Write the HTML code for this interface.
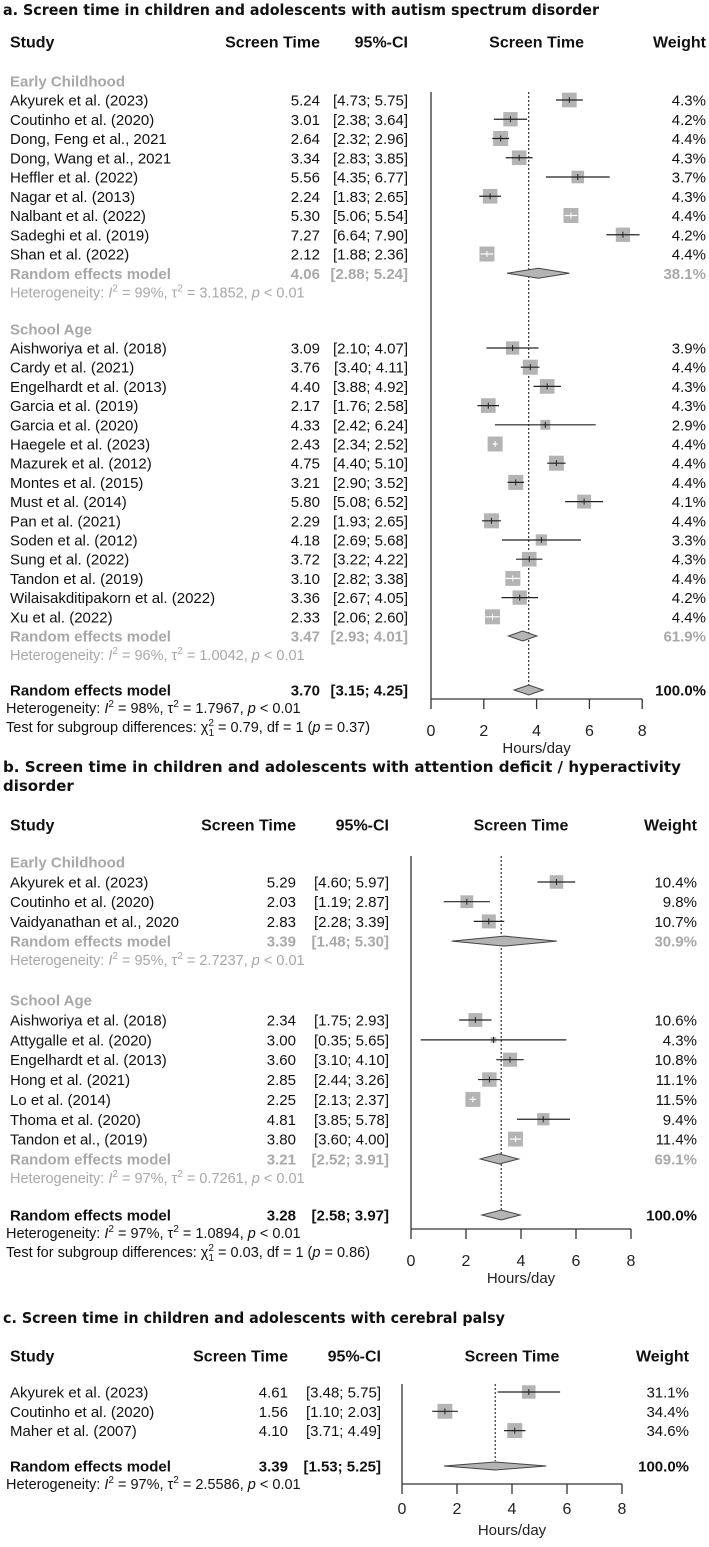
<!DOCTYPE html>
<html><head><meta charset="utf-8">
<style>
html,body{margin:0;padding:0;background:#fff;}
svg{display:block;font-family:"Liberation Sans",Arial,sans-serif;}
.t{font-family:"DejaVu Sans",sans-serif;font-weight:bold;font-size:15px;fill:#111;}
</style></head>
<body>
<svg id="chart" width="709" height="1547" viewBox="0 0 709 1547" xmlns="http://www.w3.org/2000/svg">
<text class="t" x="3" y="15" textLength="596" lengthAdjust="spacingAndGlyphs">a. Screen time in children and adolescents with autism spectrum disorder</text>
<text class="t" x="3" y="772" textLength="678" lengthAdjust="spacingAndGlyphs">b. Screen time in children and adolescents with attention deficit / hyperactivity</text>
<text class="t" x="3" y="791">disorder</text>
<text class="t" x="3" y="1323" textLength="502" lengthAdjust="spacingAndGlyphs">c. Screen time in children and adolescents with cerebral palsy</text>
</svg>
<script>
// ---------- Panel A data ----------
const aG1Names = ["Akyurek et al. (2023)","Coutinho et al. (2020)","Dong, Feng et al., 2021","Dong, Wang et al., 2021","Heffler et al. (2022)","Nagar et al. (2013)","Nalbant et al. (2022)","Sadeghi et al. (2019)","Shan et al. (2022)"];
const aG1Est = [5.24,3.01,2.64,3.34,5.56,2.24,5.30,7.27,2.12];
const aG1Lo = [4.73,2.38,2.32,2.83,4.35,1.83,5.06,6.64,1.88];
const aG1Hi = [5.75,3.64,2.96,3.85,6.77,2.65,5.54,7.90,2.36];
const aG1W = [4.3,4.2,4.4,4.3,3.7,4.3,4.4,4.2,4.4];
const aG1Pool = [4.06,2.88,5.24,38.1];
const aG1Het = ["99%","3.1852"];
const aG2Names = ["Aishworiya et al. (2018)","Cardy et al. (2021)","Engelhardt et al. (2013)","Garcia et al. (2019)","Garcia et al. (2020)","Haegele et al. (2023)","Mazurek et al. (2012)","Montes et al. (2015)","Must et al. (2014)","Pan et al. (2021)","Soden et al. (2012)","Sung et al. (2022)","Tandon et al. (2019)","Wilaisakditipakorn et al. (2022)","Xu et al. (2022)"];
const aG2Est = [3.09,3.76,4.40,2.17,4.33,2.43,4.75,3.21,5.80,2.29,4.18,3.72,3.10,3.36,2.33];
const aG2Lo = [2.10,3.40,3.88,1.76,2.42,2.34,4.40,2.90,5.08,1.93,2.69,3.22,2.82,2.67,2.06];
const aG2Hi = [4.07,4.11,4.92,2.58,6.24,2.52,5.10,3.52,6.52,2.65,5.68,4.22,3.38,4.05,2.60];
const aG2W = [3.9,4.4,4.3,4.3,2.9,4.4,4.4,4.4,4.1,4.4,3.3,4.3,4.4,4.2,4.4];
const aG2Pool = [3.47,2.93,4.01,61.9];
const aG2Het = ["96%","1.0042"];
const aAll = [3.70,3.15,4.25];
const aAllHet = ["98%","1.7967"];
const aTest = ["0.79","0.37"];
// ---------- Panel B data ----------
const bG1Names = ["Akyurek et al. (2023)","Coutinho et al. (2020)","Vaidyanathan et al., 2020"];
const bG1Est = [5.29,2.03,2.83];
const bG1Lo = [4.60,1.19,2.28];
const bG1Hi = [5.97,2.87,3.39];
const bG1W = [10.4,9.8,10.7];
const bG1Pool = [3.39,1.48,5.30,30.9];
const bG1Het = ["95%","2.7237"];
const bG2Names = ["Aishworiya et al. (2018)","Attygalle et al. (2020)","Engelhardt et al. (2013)","Hong et al. (2021)","Lo et al. (2014)","Thoma et al. (2020)","Tandon et al., (2019)"];
const bG2Est = [2.34,3.00,3.60,2.85,2.25,4.81,3.80];
const bG2Lo = [1.75,0.35,3.10,2.44,2.13,3.85,3.60];
const bG2Hi = [2.93,5.65,4.10,3.26,2.37,5.78,4.00];
const bG2W = [10.6,4.3,10.8,11.1,11.5,9.4,11.4];
const bG2Pool = [3.21,2.52,3.91,69.1];
const bG2Het = ["97%","0.7261"];
const bAll = [3.28,2.58,3.97];
const bAllHet = ["97%","1.0894"];
const bTest = ["0.03","0.86"];
// ---------- Panel C data ----------
const cNames = ["Akyurek et al. (2023)","Coutinho et al. (2020)","Maher et al. (2007)"];
const cEst = [4.61,1.56,4.10];
const cLo = [3.48,1.10,3.71];
const cHi = [5.75,2.03,4.49];
const cW = [31.1,34.4,34.6];
const cAll = [3.39,1.53,5.25];
const cAllHet = ["97%","2.5586"];
const xTicks = [0,2,4,6,8];

const svg = document.getElementById('chart');
const NS = "http://www.w3.org/2000/svg";
function el(tag, attrs, txt){
  const e = document.createElementNS(NS, tag);
  for (const k in attrs) e.setAttribute(k, attrs[k]);
  if (txt !== undefined) e.textContent = txt;
  svg.appendChild(e);
  return e;
}
const GREY = "#a8a8a8";
function txt(x, y, s, opt){
  opt = opt || {};
  const e = el('text', {x:x, y:y+5.5, 'font-size':opt.fs||15, fill:opt.fill||'#111', 'text-anchor':opt.anchor||'start', 'font-weight':opt.bold?'bold':'normal'}, s);
  return e;
}
function hetText(x, y, vals, fill, fs){
  const e = el('text', {x:x, y:y+5, 'font-size':fs, fill:fill});
  e.innerHTML = 'Heterogeneity: <tspan font-style="italic">I</tspan><tspan dy="-6" font-size="10">2</tspan><tspan dy="6"> = '+vals[0]+', τ</tspan><tspan dy="-6" font-size="10">2</tspan><tspan dy="6"> = '+vals[1]+', </tspan><tspan font-style="italic">p</tspan> &lt; 0.01';
  return e;
}
function testText(x, y, vals, fs){
  const e = el('text', {x:x, y:y+5, 'font-size':fs, fill:'#111'});
  e.innerHTML = 'Test for subgroup differences: χ<tspan dy="-6" font-size="10">2</tspan><tspan dy="10" dx="-5.5" font-size="10">1</tspan><tspan dy="-4"> = '+vals[0]+', df = 1 (</tspan><tspan font-style="italic">p</tspan> = '+vals[1]+')';
  return e;
}
function drawPanel(P){
  const sx = v => P.x0 + v*P.ppu;
  const fs = P.fs;
  let h;
  h = txt(10, P.headY, 'Study', {bold:true, fs:16});
   
  h = txt(P.estR, P.headY, 'Screen Time', {bold:true, fs:16, anchor:'end'});
   
  h = txt(P.ciR, P.headY, '95%-CI', {bold:true, fs:16, anchor:'end'});
   
  h = txt(sx(4), P.headY, 'Screen Time', {bold:true, fs:16, anchor:'middle'});
   
  h = txt(P.wR, P.headY, 'Weight', {bold:true, fs:16, anchor:'end'});
   
  const ax = el('line', {x1:sx(0), x2:sx(0), y1:P.vTop, y2:P.axisY, stroke:'#333', 'stroke-width':1.3});
   
  const hx = el('line', {x1:sx(0), x2:sx(8), y1:P.axisY, y2:P.axisY, stroke:'#333', 'stroke-width':1.3});
   
  xTicks.forEach(t => {
    const tk = el('line', {x1:sx(t), x2:sx(t), y1:P.axisY, y2:P.axisY+10, stroke:'#333', 'stroke-width':1.3});
     
    const tl = el('text', {x:sx(t), y:P.tickY, 'font-size':16, fill:'#222', 'text-anchor':'middle'}, String(t));
     
  });
  const xl = el('text', {x:sx(4), y:P.xlabY, 'font-size':15, fill:'#222', 'text-anchor':'middle'}, 'Hours/day');
   
  const rl = el('line', {x1:sx(P.all[0]), x2:sx(P.all[0]), y1:P.vTop, y2:P.allY-5, stroke:'#333', 'stroke-width':1.2, 'stroke-dasharray':'2,2'});
   
  function study(name, est, lo, hi, w, y){
    const n = txt(10, y, name, {fs:fs});
     
    const v = txt(P.estR, y, est.toFixed(2), {fs:fs, anchor:'end'});
     
    const c = txt(P.ciR, y, '['+lo.toFixed(2)+'; '+hi.toFixed(2)+']', {fs:fs, anchor:'end'});
     
    const wt = txt(P.wR, y, w.toFixed(1)+'%', {fs:fs, anchor:'end'});
     
    const s = P.boxMax * w / P.wMax;
    const b = el('rect', {x:sx(est)-s/2, y:y-s/2, width:s, height:s, fill:'#b4b4b4'});
     
    const inside = (sx(hi)-sx(lo)) < s;
    const ln = el('line', {x1:sx(lo), x2:sx(hi), y1:y, y2:y, stroke:inside?'#fff':'#222', 'stroke-width':1.2});
     
    const tk = el('line', {x1:sx(est), x2:sx(est), y1:y-3, y2:y+3, stroke:inside?'#fff':'#222', 'stroke-width':1});
     
  }
  function diamond(est, lo, hi, y, hh){
    const d = el('polygon', {points:`${sx(lo)},${y} ${sx(est)},${y-hh} ${sx(hi)},${y} ${sx(est)},${y+hh}`, fill:'#b4b4b4', stroke:'#444', 'stroke-width':1});
     
  }
  P.groups.forEach(g => {
    const gl = txt(10, g.labelY, g.label, {fs:fs, fill:GREY, bold:true});
     
    g.names.forEach((nm, i) => study(nm, g.est[i], g.lo[i], g.hi[i], g.w[i], g.startY + i*g.step));
    const ry = g.startY + g.names.length*g.step;
    const r1 = txt(10, ry, 'Random effects model', {fs:fs, fill:GREY, bold:true});
     
    const r2 = txt(P.estR, ry, g.pool[0].toFixed(2), {fs:fs, fill:GREY, bold:true, anchor:'end'});
     
    const r3 = txt(P.ciR, ry, '['+g.pool[1].toFixed(2)+'; '+g.pool[2].toFixed(2)+']', {fs:fs, fill:GREY, bold:true, anchor:'end'});
     
    const r4 = txt(P.wR, ry, g.pool[3].toFixed(1)+'%', {fs:fs, fill:GREY, bold:true, anchor:'end'});
     
    diamond(g.pool[0], g.pool[1], g.pool[2], ry, 5);
    const ht = hetText(10, ry + 19, g.het, GREY, 14.5);
     
  });
  if (P.flat) {
    P.flat.names.forEach((nm, i) => study(nm, P.flat.est[i], P.flat.lo[i], P.flat.hi[i], P.flat.w[i], P.flat.startY + i*P.flat.step));
  }
  const o1 = txt(10, P.allY, 'Random effects model', {fs:fs, bold:true});
   
  const o2 = txt(P.estR, P.allY, P.all[0].toFixed(2), {fs:fs, bold:true, anchor:'end'});
   
  const o3 = txt(P.ciR, P.allY, '['+P.all[1].toFixed(2)+'; '+P.all[2].toFixed(2)+']', {fs:fs, bold:true, anchor:'end'});
   
  const o4 = txt(P.wR, P.allY, '100.0%', {fs:fs, bold:true, anchor:'end'});
   
  diamond(P.all[0], P.all[1], P.all[2], P.allY, P.flat ? 4 : 5);
  const oh = hetText(6, P.allY + 18, P.allHet, '#111', 14.5);
   
  if (P.test) {
    const tt = testText(6, P.allY + 37, P.test, 14.5);
     
  }
}
drawPanel({fs:15, x0:431, ppu:26.4, estR:320, ciR:408, wR:706, headY:42, vTop:92, axisY:699, tickY:736, xlabY:753,
  boxMax:15, wMax:4.4, all:aAll, allY:690, allHet:aAllHet, test:aTest,
  groups:[
    {label:'Early Childhood', labelY:81, startY:100, step:19.25, names:aG1Names, est:aG1Est, lo:aG1Lo, hi:aG1Hi, w:aG1W, pool:aG1Pool, het:aG1Het},
    {label:'School Age', labelY:329, startY:348, step:19.2, names:aG2Names, est:aG2Est, lo:aG2Lo, hi:aG2Hi, w:aG2W, pool:aG2Pool, het:aG2Het}
  ]});
drawPanel({fs:15, x0:411, ppu:27.5, estR:296, ciR:389, wR:697, headY:825, vTop:856, axisY:1229, tickY:1266, xlabY:1283,
  boxMax:15, wMax:11.5, all:bAll, allY:1215, allHet:bAllHet, test:bTest,
  groups:[
    {label:'Early Childhood', labelY:862, startY:882, step:19.7, names:bG1Names, est:bG1Est, lo:bG1Lo, hi:bG1Hi, w:bG1W, pool:bG1Pool, het:bG1Het},
    {label:'School Age', labelY:1000, startY:1020, step:19.85, names:bG2Names, est:bG2Est, lo:bG2Lo, hi:bG2Hi, w:bG2W, pool:bG2Pool, het:bG2Het}
  ]});
drawPanel({fs:15, x0:402, ppu:27.5, estR:288, ciR:381, wR:689, headY:1356, vTop:1384, axisY:1484, tickY:1514, xlabY:1535,
  boxMax:15, wMax:34.6, all:cAll, allY:1466, allHet:cAllHet, test:null, groups:[],
  flat:{startY:1392, step:19.3, names:cNames, est:cEst, lo:cLo, hi:cHi, w:cW}});
</script>
</body></html>
